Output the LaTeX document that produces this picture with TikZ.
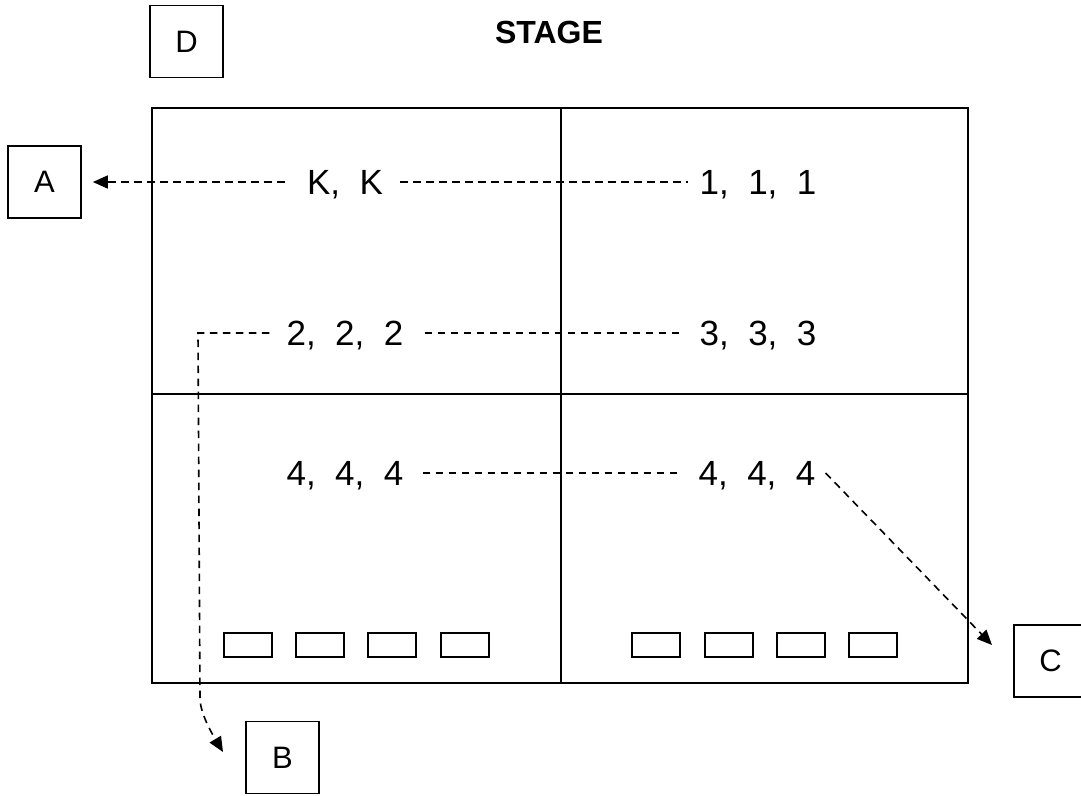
\documentclass[tikz,border=0pt]{standalone}
\usepackage{fontspec}
\setmainfont{Liberation Sans}
\usetikzlibrary{arrows.meta}
\begin{document}
\begin{tikzpicture}[x=1pt,y=-1pt,
  lbl/.style={font=\fontsize{35}{42}\selectfont, inner sep=0pt, text height=25pt, text depth=0pt},
  letterbox/.style={draw, line width=1.7pt, minimum width=73pt, minimum height=72pt, inner sep=0pt, font=\fontsize{31}{37}\selectfont},
  seat/.style={draw, line width=1.8pt, minimum width=48pt, minimum height=24pt, inner sep=0pt},
  frame/.style={line width=1.9pt},
  dashline/.style={line width=1.6pt, dash pattern=on 7.5pt off 5.5pt},
  tip/.style={-{Triangle[length=15pt,width=13pt]}}
]
\clip (0,0) rectangle (1081,795);
\fill[white] (0,0) rectangle (1081,795);

% top
\node[letterbox] (D) at (186.5,41.5) {D};
\node[lbl, font=\fontsize{32}{38}\selectfont\bfseries, text height=23pt] (stage) at (549,32) {STAGE};

% frame
\draw[frame] (152,108) rectangle (968,683);
\draw[frame] (561,108) -- (561,683);
\draw[frame] (152,394) -- (968,394);

% letter boxes
\node[letterbox] (A) at (44.5,182) {A};
\node[letterbox] (B) at (282.5,757.5) {B};
\node[letterbox] (C) at (1050.5,661) {C};

% texts
\node[lbl] (kk) at (345,182) {K,\ \ K};
\node[lbl] (r1) at (758,182) {1,\ \ 1,\ \ 1};
\node[lbl] (l2) at (345,333) {2,\ \ 2,\ \ 2};
\node[lbl] (r2) at (758,333) {3,\ \ 3,\ \ 3};
\node[lbl] (l3) at (345,473) {4,\ \ 4,\ \ 4};
\node[lbl] (r3) at (757,473) {4,\ \ 4,\ \ 4};

% seats
\foreach \x/\n in {248/s1,320/s2,392/s3,465/s4,656/s5,729/s6,801/s7,873/s8}
  \node[seat] (\n) at (\x,645) {};

% coordinates
\coordinate (cornerB) at (198,333);
\coordinate (bendB) at (200,700);
\coordinate (tipB) at (223,752);
\coordinate (tipC) at (992,645);

% connectors
\draw[dashline,tip] ([xshift=-22pt]kk.west) -- ([xshift=11pt]A.east);
\draw[dashline] ([xshift=17pt]kk.east) -- ([xshift=-11pt]r1.west);
\draw[dashline,tip] ([xshift=-17pt]l2.west) -- (cornerB) -- (bendB)
  .. controls (201,714) and (211,732) .. (tipB);
\draw[dashline] ([xshift=21pt]l2.east) -- ([xshift=-19pt]r2.west);
\draw[dashline] ([xshift=19pt]l3.east) -- ([xshift=-18pt]r3.west);
\draw[dashline,tip] ([xshift=10pt]r3.east) -- (tipC);
\end{tikzpicture}
\end{document}
